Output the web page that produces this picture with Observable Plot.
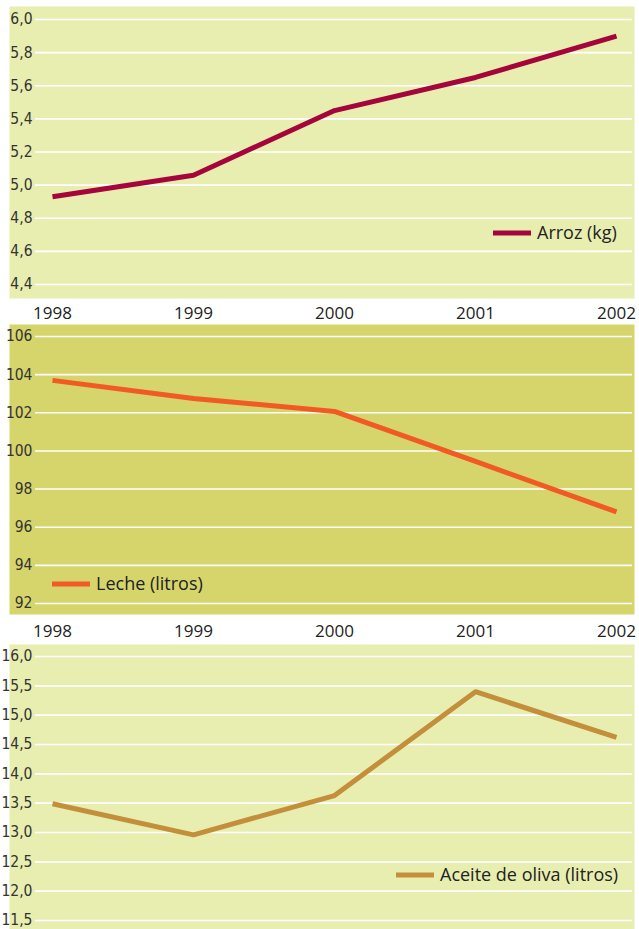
<!DOCTYPE html>
<html><head><meta charset="utf-8">
<script src="https://cdn.jsdelivr.net/npm/d3@7"></script>
<script src="https://cdn.jsdelivr.net/npm/@observablehq/plot@0.6"></script>
<style>
body{margin:0;background:#fff;width:639px;height:929px;overflow:hidden}
svg{display:block}
</style></head><body><div id="chart"></div>
<script>
const years = [1998, 1999, 2000, 2001, 2002];
const arroz = [4.93, 5.06, 5.45, 5.65, 5.90];
const leche = [103.7, 102.75, 102.07, 99.45, 96.8];
const aceite = [13.49, 12.96, 13.63, 15.4, 14.62];
const arrozTicks = [4.4, 4.6, 4.8, 5.0, 5.2, 5.4, 5.6, 5.8, 6.0];
const lecheTicks = [92, 94, 96, 98, 100, 102, 104, 106];
const aceiteTicks = [11.5, 12.0, 12.5, 13.0, 13.5, 14.0, 14.5, 15.0, 15.5, 16.0];
const labels = ["Arroz (kg)", "Leche (litros)", "Aceite de oliva (litros)"];
const colors = ["#a5053a", "#f15a24", "#c38f3b"];
const bgLight = "#e8eeb0", bgDark = "#d6d56c";

const root = document.getElementById("chart");
const tickFont = "'Liberation Sans Narrow', 'DejaVu Sans Condensed', 'Roboto', sans-serif";
const mainFont = "'Open Sans', 'Noto Sans', sans-serif";

function panel(cfg) {
  const data = years.map((y, i) => ({year: y, value: cfg.values[i]}));
  const marks = [
    Plot.frame({fill: cfg.bg, stroke: "none"}),
    Plot.ruleY(cfg.ticks, {stroke: "white", strokeWidth: 1.6, insetLeft: 26, insetRight: 2}),
    Plot.axisY(cfg.ticks, {anchor: "left", tickSize: 0, tickPadding: 0, dx: 23, label: null,
      tickFormat: cfg.fmt, fontFamily: tickFont, fontSize: 15.5, fill: "#333"}),
    Plot.line(data, {x: "year", y: "value", stroke: cfg.color, strokeWidth: 5,
      strokeLinecap: "butt", strokeLinejoin: "round"})
  ];
  if (cfg.showX) {
    marks.push(Plot.axisX(years, {anchor: "bottom", tickSize: 0, tickPadding: cfg.xPad, label: null,
      tickFormat: d => String(d), fontSize: 17, fill: "#222"}));
  }
  const svg = Plot.plot({
    width: 639, height: cfg.height,
    marginTop: cfg.mt, marginBottom: cfg.mb, marginLeft: 9, marginRight: 5,
    style: {fontFamily: mainFont, background: "white", color: "#222", overflow: "visible"},
    x: {domain: [1998, 2002], range: [52, 616], axis: null, label: null},
    y: {domain: cfg.domain, range: cfg.yRange, axis: null, label: null},
    marks
  });
  const s = d3.select(svg);
  const g = s.append("g");
  g.append("line").attr("x1", cfg.leg[0]).attr("x2", cfg.leg[0] + 38)
    .attr("y1", cfg.leg[1]).attr("y2", cfg.leg[1])
    .attr("stroke", cfg.color).attr("stroke-width", 5);
  g.append("text").attr("x", cfg.leg[0] + 44).attr("y", cfg.leg[1])
    .attr("dy", "0.36em").attr("font-size", 18).attr("font-family", mainFont)
    .attr("text-anchor", "start")
    .attr("fill", "#222").text(cfg.label);
  root.appendChild(svg);
}

panel({values: arroz, ticks: arrozTicks, color: colors[0], bg: bgLight, label: labels[0],
  domain: [4.4, 6.0], yRange: [284, 19], height: 322, mt: 6, mb: 24, showX: true, xPad: 8,
  fmt: d => d.toFixed(1).replace(".", ","), leg: [493, 233]});
panel({values: leche, ticks: lecheTicks, color: colors[1], bg: bgDark, label: labels[1],
  domain: [92, 106], yRange: [281, 14], height: 322, mt: 2, mb: 30, showX: true, xPad: 10,
  fmt: d => String(d), leg: [52, 262]});
panel({values: aceite, ticks: aceiteTicks, color: colors[2], bg: bgLight, label: labels[2],
  domain: [11.5, 16.0], yRange: [276, 12], height: 285, mt: 0, mb: 0, showX: false, xPad: 0,
  fmt: d => d.toFixed(1).replace(".", ","), leg: [396, 231]});
</script></body></html>
